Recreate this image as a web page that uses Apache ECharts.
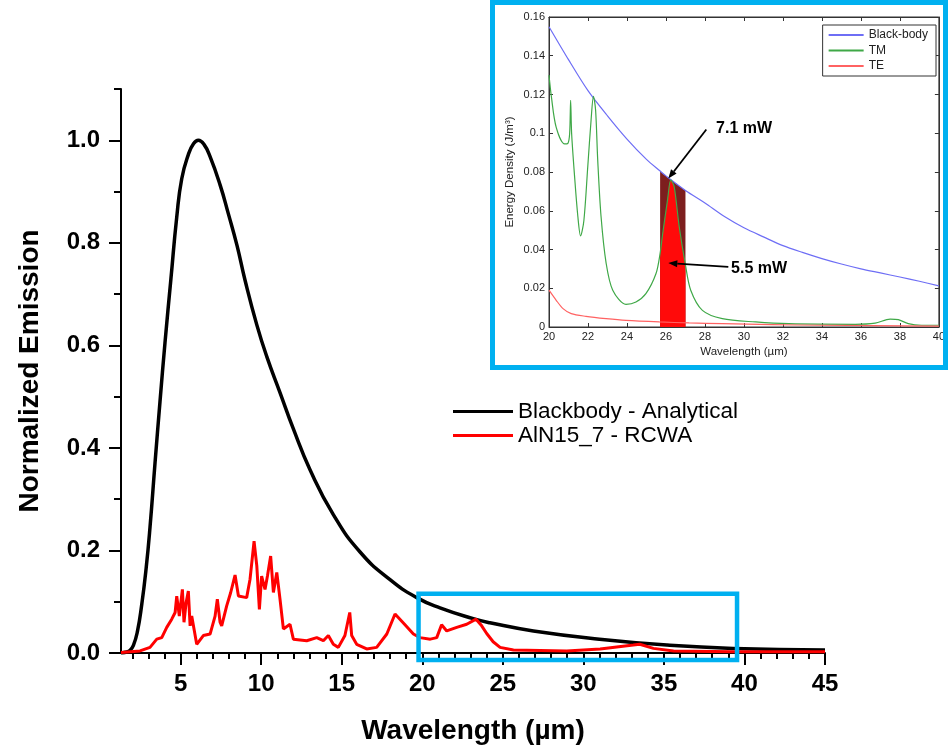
<!DOCTYPE html>
<html><head><meta charset="utf-8">
<script src="https://cdn.jsdelivr.net/npm/echarts@6/dist/echarts.min.js"></script>
<style>html,body{margin:0;padding:0;background:#fff}#c{width:948px;height:750px}</style>
</head><body><div id="c"></div>
<script>
// ---------- Main chart data ----------
const bbWl = [1.3,1.66,1.85,2.07,2.32,2.59,2.86,3.1,3.41,3.72,4.03,4.4,4.76,5.07,5.48,5.8,6.1,6.45,6.83,7.45,7.97,8.5,9.0,9.73,10.35,11.17,12.0,13.04,14.48,16.14,18.0,19.66,21.1,23.17,24.2,26.9,31.0,35.2,39.3,45];
const bbEm = [0,0.002,0.005,0.015,0.042,0.095,0.165,0.245,0.37,0.49,0.605,0.73,0.85,0.925,0.972,0.993,1.0,0.992,0.968,0.913,0.856,0.795,0.727,0.64,0.578,0.508,0.437,0.357,0.27,0.197,0.143,0.108,0.088,0.067,0.059,0.043,0.027,0.0155,0.009,0.006];

const rcwaWl = [1.3,2.48,3.1,3.52,3.83,4.14,4.45,4.66,4.76,4.92,5.11,5.21,5.34,5.48,5.59,5.69,6.0,6.41,6.83,7.14,7.28,7.45,7.55,7.86,8.11,8.38,8.59,9.1,9.31,9.56,9.73,9.89,10.03,10.24,10.39,10.59,10.76,10.97,11.17,11.38,11.79,12.0,12.83,13.45,13.86,14.17,14.48,14.79,15.2,15.5,15.62,15.93,16.55,17.17,17.8,18.31,18.9,19.45,19.86,20.5,20.9,21.2,21.52,22.14,22.76,23.34,23.69,24.0,24.4,24.83,25.66,28.97,31.04,33.1,33.5,34.35,35.6,39.3,45];
const rcwaEm = [0.001,0.004,0.011,0.027,0.03,0.05,0.066,0.079,0.111,0.072,0.124,0.06,0.098,0.121,0.053,0.072,0.017,0.034,0.037,0.072,0.105,0.06,0.053,0.092,0.118,0.152,0.111,0.108,0.144,0.218,0.17,0.085,0.15,0.124,0.15,0.189,0.118,0.157,0.105,0.047,0.056,0.027,0.024,0.03,0.024,0.034,0.017,0.011,0.034,0.079,0.034,0.017,0.008,0.011,0.037,0.076,0.056,0.037,0.03,0.027,0.03,0.055,0.043,0.05,0.056,0.066,0.053,0.038,0.022,0.011,0.006,0.004,0.008,0.0155,0.017,0.009,0.004,0.0025,0.0025];

const xMajorTicks = [5,10,15,20,25,30,35,40,45];
const xMinorTicks = [2,3,4,6,7,8,9,11,12,13,14,16,17,18,19,21,22,23,24,26,27,28,29,31,32,33,34,36,37,38,39,41,42,43,44];
const yMajorTicks = [0,0.2,0.4,0.6,0.8,1.0];
const yMinorTicks = [0.1,0.3,0.5,0.7,0.9,1.1];

// ---------- Inset data ----------
const inBbWl = [20,21,22,23,24,25,25.7,26,27,28,29,30,31,32,33,34,35,36,37,38,39,40];
const inBbVal = [0.155,0.138,0.122,0.109,0.097,0.0865,0.0805,0.078,0.0705,0.064,0.057,0.0512,0.0465,0.042,0.0385,0.0353,0.0325,0.030,0.0279,0.0258,0.0236,0.0212];
const tmWl = [20,20.12,20.37,20.8,20.97,21.06,21.11,21.16,21.31,21.48,21.62,21.79,21.99,22.16,22.28,22.39,22.5,22.67,22.93,23.27,23.95,24.46,24.97,25.49,25.7,25.83,26.08,26.25,26.42,26.68,27.0,27.27,27.87,28.89,30.6,32.3,35.7,36.73,37.5,37.92,38.43,39.11,40];
const tmVal = [0.130,0.119,0.103,0.0945,0.0948,0.100,0.117,0.100,0.078,0.057,0.047,0.055,0.083,0.107,0.119,0.112,0.086,0.057,0.033,0.019,0.0117,0.0129,0.0172,0.0276,0.038,0.048,0.0655,0.0759,0.0724,0.0517,0.032,0.019,0.0086,0.0043,0.0026,0.0017,0.0014,0.002,0.0041,0.0038,0.0017,0.0009,0.0009];
const teWl = [20,20.37,20.72,21.14,21.9,22.93,23.95,25.66,27.19,28.89,31.45,34.0,40];
const teVal = [0.019,0.0138,0.0095,0.0069,0.0055,0.0043,0.0034,0.0026,0.0021,0.0017,0.0012,0.0009,0.0005];
const bandStart = 25.7, bandEnd = 27.0;
const notes = [
  {text:'7.1 mW', from:[28.07,0.1019], to:[26.12,0.0766], at:[28.57,0.1026]},
  {text:'5.5 mW', from:[29.2,0.031], to:[26.12,0.033], at:[29.34,0.0303]}
];
const zoomBox = {x0:19.77, x1:39.54, y0:-0.0136, y1:0.1155};

// ---------- build ----------
const zip = (a,b) => a.map((v,i)=>[v,b[i]]);
const inBand = p => p[0] >= bandStart - 1e-9 && p[0] <= bandEnd + 1e-9;
const FONT = "'Liberation Sans', Arial, sans-serif";

const mainAxisLine = {show:true, onZero:false, lineStyle:{color:'#000', width:2}};
const insetAxisLine = {show:true, onZero:false, lineStyle:{color:'#333', width:1}};
const insetLabel = {color:'#222', fontSize:11, fontFamily:FONT, margin:4};

const option = {
  animation:false,
  textStyle:{fontFamily:FONT},
  grid:[
    {left:121, top:89, width:704, height:565, containLabel:false},
    {left:549, top:17, width:392, height:310, show:true, borderColor:'#333', borderWidth:1, backgroundColor:'#fff'}
  ],
  xAxis:[
    {gridIndex:0, type:'value', position:'bottom', min:1.3, max:45, axisLine:mainAxisLine,
     axisTick:{show:true, customValues:xMajorTicks, length:12, lineStyle:{color:'#000', width:2}},
     axisLabel:{customValues:xMajorTicks, color:'#000', fontWeight:'bold', fontSize:24, margin:19},
     splitLine:{show:false},
     name:'Wavelength (\u00b5m)', nameLocation:'middle', nameGap:64,
     nameTextStyle:{color:'#000', fontWeight:'bold', fontSize:28}},
    {gridIndex:0, type:'value', position:'bottom', min:1.3, max:45, axisLine:{show:false, onZero:false},
     axisTick:{show:true, customValues:xMinorTicks, length:6, lineStyle:{color:'#000', width:2}},
     axisLabel:{show:false}, splitLine:{show:false}},
    {gridIndex:1, type:'value', position:'bottom', min:20, max:40, interval:2, axisLine:insetAxisLine,
     axisTick:{inside:true, length:4, lineStyle:{color:'#333'}},
     axisLabel:insetLabel, splitLine:{show:false},
     name:'Wavelength (\u00b5m)', nameLocation:'middle', nameGap:19,
     nameTextStyle:{color:'#222', fontSize:11.5}},
    {gridIndex:1, type:'value', position:'top', min:20, max:40, interval:2, axisLine:insetAxisLine,
     axisTick:{inside:true, length:4, lineStyle:{color:'#333'}},
     axisLabel:{show:false}, splitLine:{show:false}}
  ],
  yAxis:[
    {gridIndex:0, type:'value', position:'left', min:0, max:1.1, axisLine:mainAxisLine,
     axisTick:{show:true, customValues:yMajorTicks, length:12, lineStyle:{color:'#000', width:2}},
     axisLabel:{customValues:yMajorTicks, color:'#000', fontWeight:'bold', fontSize:24, margin:21,
                formatter:v=>Number(v).toFixed(1)},
     splitLine:{show:false},
     name:'Normalized Emission', nameLocation:'middle', nameGap:77, nameRotate:90,
     nameTextStyle:{color:'#000', fontWeight:'bold', fontSize:28}},
    {gridIndex:0, type:'value', position:'left', min:0, max:1.1, axisLine:{show:false, onZero:false},
     axisTick:{show:true, customValues:yMinorTicks, length:7, lineStyle:{color:'#000', width:2}},
     axisLabel:{show:false}, splitLine:{show:false}},
    {gridIndex:1, type:'value', position:'left', min:0, max:0.16, interval:0.02, axisLine:insetAxisLine,
     axisTick:{inside:true, length:4, lineStyle:{color:'#333'}},
     axisLabel:insetLabel, splitLine:{show:false},
     name:'Energy Density (J/m\u00b3)', nameLocation:'middle', nameGap:33, nameRotate:90,
     nameTextStyle:{color:'#222', fontSize:11.5}},
    {gridIndex:1, type:'value', position:'right', min:0, max:0.16, interval:0.02, axisLine:insetAxisLine,
     axisTick:{inside:true, length:4, lineStyle:{color:'#333'}},
     axisLabel:{show:false}, splitLine:{show:false}}
  ],
  legend:[
    {data:['Blackbody - Analytical','AlN15_7 - RCWA'], orient:'vertical', left:453, top:400,
     padding:0, itemGap:1, itemWidth:60, itemHeight:3, icon:'rect',
     textStyle:{fontSize:22.5, color:'#000', fontFamily:FONT}},
    {data:['Black-body','TM','TE'], orient:'vertical', right:12, top:25,
     padding:[4,8,4,6], itemGap:3.5, itemWidth:35, itemHeight:2, icon:'rect',
     borderColor:'#333', borderWidth:1, backgroundColor:'#fff',
     textStyle:{fontSize:12, color:'#222', fontFamily:FONT}}
  ],
  series:[
    {name:'Blackbody - Analytical', type:'line', xAxisIndex:0, yAxisIndex:0, data:zip(bbWl,bbEm),
     smooth:0.5, showSymbol:false, symbol:'none', color:'#000', lineStyle:{color:'#000', width:3.5}, z:3},
    {name:'AlN15_7 - RCWA', type:'line', xAxisIndex:0, yAxisIndex:0, data:zip(rcwaWl,rcwaEm),
     smooth:false, showSymbol:false, symbol:'none', color:'#ff0000', lineStyle:{color:'#ff0000', width:3}, z:4},
    {name:'band-bb', type:'line', xAxisIndex:2, yAxisIndex:2, data:zip(inBbWl,inBbVal).filter(inBand),
     smooth:0.3, symbol:'none', lineStyle:{width:0}, areaStyle:{color:'#7d1e1e', opacity:1}, silent:true, z:2},
    {name:'band-tm', type:'line', xAxisIndex:2, yAxisIndex:2, data:zip(tmWl,tmVal).filter(inBand),
     smooth:0.3, symbol:'none', lineStyle:{width:0}, areaStyle:{color:'#ff0a0a', opacity:1}, silent:true, z:2},
    {name:'Black-body', type:'line', xAxisIndex:2, yAxisIndex:2, data:zip(inBbWl,inBbVal),
     smooth:0.3, symbol:'none', color:'#6e6ef5', lineStyle:{color:'#6e6ef5', width:1.2}, z:3},
    {name:'TM', type:'line', xAxisIndex:2, yAxisIndex:2, data:zip(tmWl,tmVal),
     smooth:0.3, symbol:'none', color:'#3fa847', lineStyle:{color:'#3fa847', width:1.2}, z:3},
    {name:'TE', type:'line', xAxisIndex:2, yAxisIndex:2, data:zip(teWl,teVal),
     smooth:0.3, symbol:'none', color:'#ff6262', lineStyle:{color:'#ff6262', width:1.2}, z:3}
  ]
};

const chart = echarts.init(document.getElementById('c'), null, {renderer:'canvas'});
chart.setOption(option);

const P = (g, pt) => chart.convertToPixel({gridIndex:g}, pt);
const gfx = [];
// inset frame
gfx.push({type:'rect', shape:{x:492.5, y:2.5, width:453, height:365},
  style:{stroke:'#00b0f0', lineWidth:5, fill:null}, z:100});
// zoom box on main chart
const a = P(0,[zoomBox.x0, zoomBox.y1]), b = P(0,[zoomBox.x1, zoomBox.y0]);
gfx.push({type:'rect', shape:{x:a[0], y:a[1], width:b[0]-a[0], height:b[1]-a[1]},
  style:{stroke:'#00b0f0', lineWidth:4.5, fill:null}, z:100});
// annotations
notes.forEach(n => {
  const s = P(1, n.from), e = P(1, n.to), t = P(1, n.at);
  const dx = e[0]-s[0], dy = e[1]-s[1], L = Math.hypot(dx,dy);
  const ux = dx/L, uy = dy/L, nx = -uy, ny = ux;
  const hl = 9, hw = 3.5;
  const bx = e[0]-ux*hl, by = e[1]-uy*hl;
  gfx.push({type:'line', shape:{x1:s[0], y1:s[1], x2:bx, y2:by}, style:{stroke:'#000', lineWidth:1.8}, z:101});
  gfx.push({type:'polygon', shape:{points:[[e[0],e[1]],[bx+nx*hw,by+ny*hw],[bx-nx*hw,by-ny*hw]]},
    style:{fill:'#000'}, z:101});
  gfx.push({type:'text', x:t[0], y:t[1], style:{text:n.text, fill:'#000', font:"bold 16px 'Liberation Sans', Arial, sans-serif",
    textAlign:'left', textVerticalAlign:'middle'}, z:101});
});
chart.setOption({graphic:gfx});
</script>
</body></html>
